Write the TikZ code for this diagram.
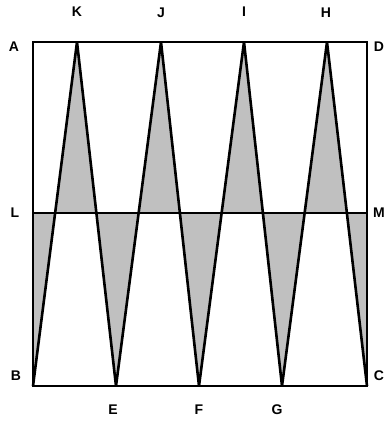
\documentclass[tikz,border=0pt]{standalone}
\usepackage{fontspec}
\setmainfont{Liberation Sans}
\begin{document}
\begin{tikzpicture}[x=1pt,y=-1pt,
  lab/.style={font=\bfseries\fontsize{14}{14}\selectfont, inner sep=0pt},
  edge/.style={line width=1.8pt},
  zig/.style={line width=2.6pt, line join=bevel}]
\useasboundingbox (0,0) rectangle (385,421);
\coordinate (A) at (33,42);
\coordinate (D) at (367,42);
\coordinate (B) at (33,386);
\coordinate (C) at (367,386);
\coordinate (L) at (33,213);
\coordinate (M) at (367,213);
\coordinate (E) at (116,386);
\coordinate (F) at (199,386);
\coordinate (G) at (282,386);
\coordinate (K) at (77,42);
\coordinate (J) at (161,42);
\coordinate (I) at (244,42);
\coordinate (H) at (327,42);
\fill[fill={rgb,255:red,192;green,192;blue,192}, even odd rule]
  (B) -- (K) -- (E) -- (J) -- (F) -- (I) -- (G) -- (H) -- (C) -- cycle
  (L) -- (M) -- (C) -- (B) -- cycle;
\draw[edge] (A) -- (D) -- (C) -- (B) -- cycle;
\draw[edge] (L) -- (M);
\draw[zig] (B) -- (K) -- (E) -- (J) -- (F) -- (I) -- (G) -- (H) -- (C);
\node[lab] (tA) at (14,47) {A};
\node[lab] (tD) at (379,47) {D};
\node[lab] (tK) at (77,12) {K};
\node[lab] (tJ) at (161,13) {J};
\node[lab] (tI) at (244,12) {I};
\node[lab] (tH) at (326,13) {H};
\node[lab] (tL) at (15,213) {L};
\node[lab] (tM) at (379,213) {M};
\node[lab] (tB) at (16,376) {B};
\node[lab] (tC) at (379,376) {C};
\node[lab] (tE) at (113,410) {E};
\node[lab] (tF) at (199,410) {F};
\node[lab] (tG) at (277,410) {G};
\end{tikzpicture}
\end{document}
